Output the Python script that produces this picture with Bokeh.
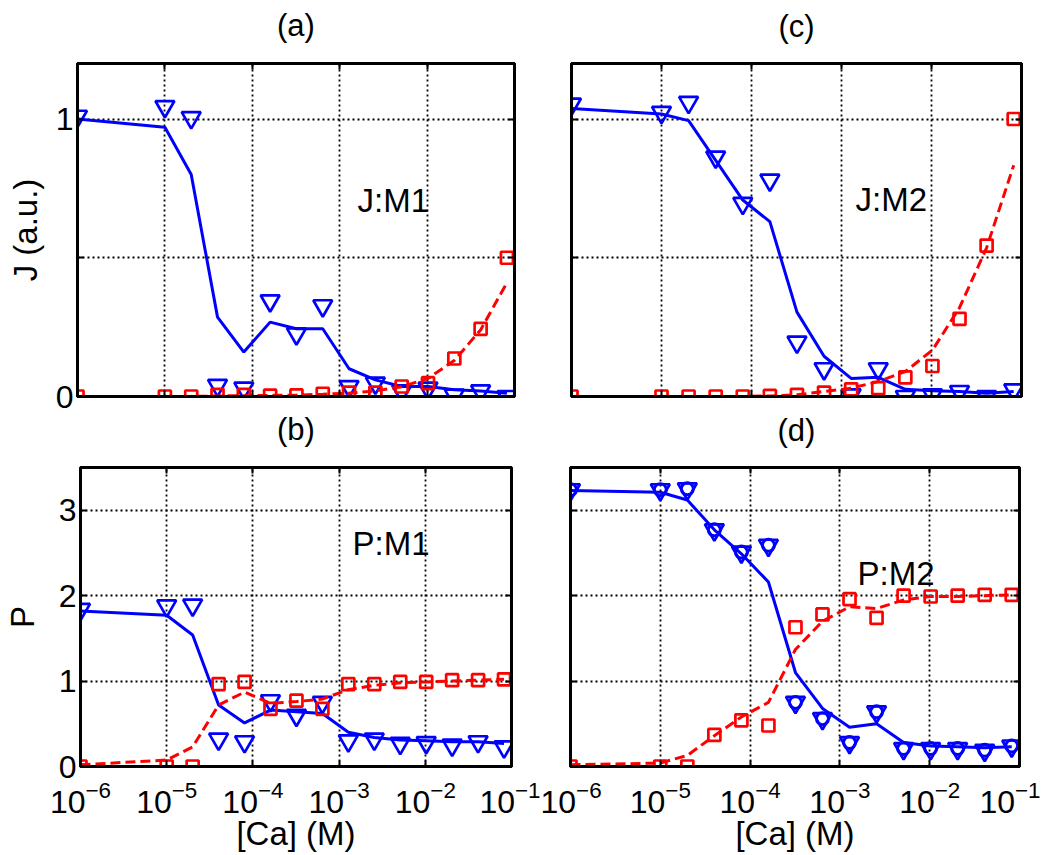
from bokeh.plotting import figure
from bokeh.models import (Range1d, FixedTicker, LogTicker, Label, CustomJSTickFormatter,
                          LogAxis, LinearAxis)
from bokeh.layouts import column, row
from bokeh.embed import file_html
from bokeh.resources import INLINE

# [Ca] concentrations (M)
ca = [1e-6, 1e-5, 2e-5, 4e-5, 8e-5, 1.6e-4, 3.2e-4, 6.4e-4, 1.28e-3, 2.56e-3,
      5.12e-3, 1.024e-2, 2.048e-2, 4.096e-2, 8.192e-2]

# (a) J:M1
a_tri = [1.01, 1.045, 1.005, 0.04, 0.03, 0.345, 0.226, 0.327, 0.036, 0.048, 0.02, 0.03, 0.005, 0.02, 0.0]
a_fit_blue = [1.0, 0.97, 0.80, 0.286, 0.16, 0.268, 0.244, 0.244, 0.10, 0.06, 0.036, 0.036, 0.024, 0.02, 0.012]
a_sq = [0, 0, 0, 0.006, 0.006, 0.003, 0.004, 0.01, 0.014, 0.014, 0.036, 0.048, 0.137, 0.244, 0.5]
a_fit_red = [0, 0, 0, 0.002, 0.003, 0.004, 0.005, 0.008, 0.012, 0.02, 0.035, 0.065, 0.13, 0.24, 0.41]

# (c) J:M2
c_tri = [1.054, 1.024, 1.06, 0.863, 0.696, 0.78, 0.196, 0.10, 0.006, 0.10, 0.0, 0.006, 0.018, 0.0, 0.024]
c_fit_blue = [1.038, 1.018, 0.994, 0.851, 0.708, 0.63, 0.304, 0.145, 0.065, 0.069, 0.026, 0.021, 0.018, 0.012, 0.018]
c_sq = [0, 0, 0, 0, 0, 0.002, 0.006, 0.014, 0.026, 0.03, 0.069, 0.11, 0.28, 0.544, 1.0]
c_fit_red = [0, 0, 0, 0, 0, 0.002, 0.006, 0.018, 0.03, 0.054, 0.09, 0.167, 0.32, 0.536, 0.833]

# (b) P:M1
b_tri = [1.84, 1.88, 1.89, 0.32, 0.29, 0.77, 0.60, 0.75, 0.30, 0.32, 0.27, 0.28, 0.25, 0.29, 0.23]
b_fit_blue = [1.82, 1.77, 1.54, 0.72, 0.51, 0.66, 0.64, 0.62, 0.40, 0.34, 0.31, 0.30, 0.29, 0.29, 0.27]
b_sq = [0, 0, 0, 0.965, 0.99, 0.675, 0.77, 0.675, 0.965, 0.965, 0.99, 0.99, 1.01, 1.01, 1.02]
b_fit_red = [0.02, 0.076, 0.23, 0.72, 0.87, 0.74, 0.76, 0.79, 0.90, 0.95, 0.98, 0.99, 1.0, 1.01, 1.02]

# (d) P:M2
d_tri = [3.24, 3.24, 3.25, 2.77, 2.51, 2.59, 0.75, 0.56, 0.28, 0.64, 0.21, 0.21, 0.21, 0.19, 0.24]
d_fit_blue = [3.23, 3.21, 3.12, 2.77, 2.49, 2.16, 1.10, 0.68, 0.46, 0.50, 0.28, 0.24, 0.23, 0.22, 0.23]
d_sq = [0, 0, 0, 0.37, 0.54, 0.48, 1.63, 1.78, 1.96, 1.74, 2.0, 1.99, 2.0, 2.01, 2.01]
d_fit_red = [0.02, 0.04, 0.13, 0.36, 0.58, 0.75, 1.37, 1.70, 1.87, 1.85, 1.95, 1.99, 1.99, 2.0, 2.01]

J_ticks = [0, 0.5, 1]
P_ticks = [0, 1, 2, 3]

FONT = "Liberation Sans"
BLUE = "#0000ff"
RED = "#ff0000"
TICK_FS = "32px"
TEXT_FS = "33px"
TITLE_FS = "31px"


def style_axis(ax, show_labels):
    ax.axis_line_color = "black"
    ax.axis_line_width = 3
    ax.major_tick_in = 6
    ax.major_tick_out = 0
    ax.major_tick_line_width = 2
    ax.major_tick_line_color = "black"
    ax.minor_tick_line_color = None
    ax.major_label_text_font = FONT
    ax.major_label_text_font_size = TICK_FS
    ax.major_label_text_color = "black"
    ax.axis_label_text_font = FONT
    ax.axis_label_text_font_size = TEXT_FS
    ax.axis_label_text_font_style = "normal"
    ax.axis_label_text_color = "black"
    if not show_labels:
        ax.formatter = CustomJSTickFormatter(code="return ''")
        ax.major_label_standoff = 0


def panel(width, height, bl, br, bt, bb, ymax, yticks,
          show_ylabels, show_xlabels, ylabel, ylstand,
          xlabel, xlfs, xlstand, toplabel, tstand,
          fit_b, tri, fit_r, sq, note, nx, ny, circ=False):
    p = figure(width=width, height=height, x_axis_type="log",
               x_range=Range1d(1e-6, 1e-1), y_range=Range1d(0, ymax),
               output_backend="svg", toolbar_location=None,
               min_border_left=bl, min_border_right=br,
               min_border_top=bt, min_border_bottom=bb)
    p.outline_line_color = "black"
    p.outline_line_width = 3
    p.outline_line_alpha = 1
    p.background_fill_color = "white"
    p.border_fill_color = "white"

    xt = LogTicker(desired_num_ticks=6, num_minor_ticks=0)
    yt = FixedTicker(ticks=yticks)
    p.xaxis.ticker = xt
    p.yaxis.ticker = yt
    style_axis(p.xaxis[0], show_xlabels)
    style_axis(p.yaxis[0], show_ylabels)
    if show_ylabels:
        p.yaxis.major_label_overrides = {0.5: ""}
        p.yaxis.major_label_standoff = 4
    if show_xlabels:
        p.xaxis.major_label_standoff = 14
        p.xaxis.major_label_text_line_height = 1.0
        p.xaxis.axis_label_text_line_height = 1.0
    if ylabel:
        p.yaxis.axis_label = ylabel
        p.yaxis.axis_label_standoff = ylstand
    if xlabel:
        p.xaxis.axis_label = xlabel
        p.xaxis.axis_label_text_font_size = xlfs
        p.xaxis.axis_label_standoff = xlstand

    # box ticks on top / right
    top = LogAxis(ticker=xt)
    style_axis(top, False)
    if toplabel:
        top.axis_label = toplabel
        top.axis_label_text_font_size = TITLE_FS
        top.axis_label_standoff = tstand
    p.add_layout(top, "above")
    right = LinearAxis(ticker=yt)
    style_axis(right, False)
    p.add_layout(right, "right")

    for g in (p.xgrid[0], p.ygrid[0]):
        g.grid_line_color = "black"
        g.grid_line_dash = "2 3"
        g.grid_line_width = 1.8
    p.ygrid.ticker = yt

    p.line(ca, fit_b, line_color=BLUE, line_width=3)
    p.scatter(ca, tri, marker="inverted_triangle", size=19, fill_color=None,
              line_color=BLUE, line_width=2.7)
    if circ:
        p.scatter(ca, tri, marker="circle", size=12, fill_color=None,
                  line_color=BLUE, line_width=3)
    p.line(ca, fit_r, line_color=RED, line_width=3, line_dash="10 5")
    p.scatter(ca, sq, marker="square", size=12, fill_color=None,
              line_color=RED, line_width=2.7)

    p.add_layout(Label(x=nx, y=ny, text=note, text_font=FONT, text_font_size=TEXT_FS,
                       text_baseline="middle", text_align="left", text_color="black"))
    return p


# frames: a 437x333, c 450x334, b 439x304, d 449x299
# the letters (b) and (d) sit in the lower margin of the upper panels
pa = panel(540, 455, 77, 26, 63, 59, 1.2, J_ticks, True, False,
           "J (a.u.)", 9, "(b)", TITLE_FS, 15, "(a)", 21,
           a_fit_blue, a_tri, a_fit_red, a_sq, "J:M1", 1.6e-3, 0.706)
pc = panel(500, 455, 31, 19, 62, 59, 1.2, J_ticks, False, False,
           None, 0, "(d)", TITLE_FS, 16, "(c)", 20,
           c_fit_blue, c_tri, c_fit_red, c_sq, "J:M2", 1.43e-3, 0.711)
pb = panel(540, 399, 72, 29, 8, 87, 3.5, P_ticks, True, True,
           "P", 15, "[Ca] (M)", TEXT_FS, -1, None, 0,
           b_fit_blue, b_tri, b_fit_red, b_sq, "P:M1", 1.43e-3, 2.61)
pd = panel(500, 399, 30, 21, 12, 88, 3.5, P_ticks, False, True,
           None, 0, "[Ca] (M)", TEXT_FS, -1, None, 0,
           d_fit_blue, d_tri, d_fit_red, d_sq, "P:M2", 1.57e-3, 2.26, circ=True)

layout = column(row(pa, pc), row(pb, pd))
open("out.html", "w").write(file_html(layout, INLINE))
